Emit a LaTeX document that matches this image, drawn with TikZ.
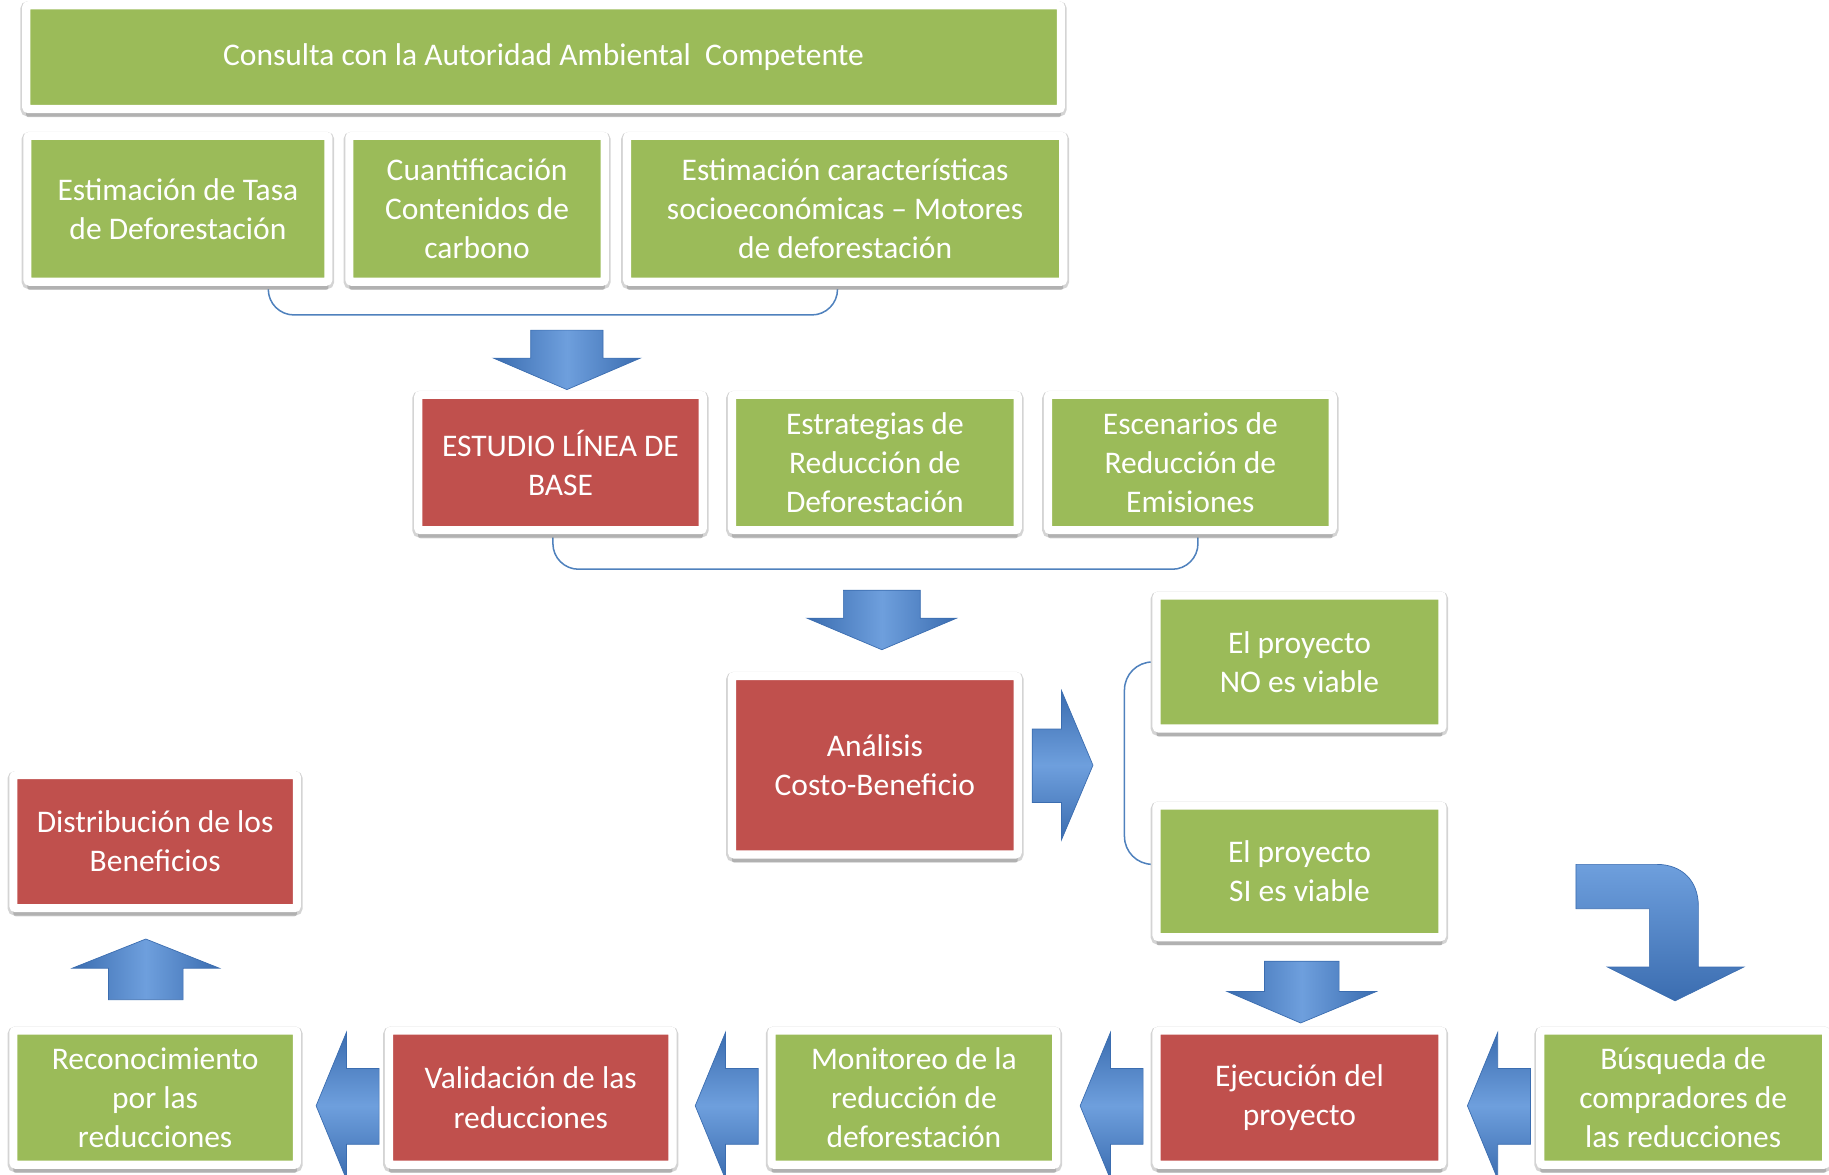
\documentclass[tikz,border=0pt]{standalone}
\usepackage{fontspec}
\setmainfont{Carlito}
\usetikzlibrary{shadows}

\definecolor{boxgreen}{HTML}{9BBB59}
\definecolor{boxred}{HTML}{C0504D}
\definecolor{bracecol}{HTML}{4F81BD}
\definecolor{arrowlight}{HTML}{6E9FDD}
\definecolor{arrowdark}{HTML}{3B6DB0}

\tikzset{
  card/.style={draw=white, line width=7pt, rounded corners=2pt, text=white,
    align=center, font=\fontsize{27}{33.5}\selectfont,
    preaction={draw=black!17, line width=10pt, transform canvas={yshift=-1.5pt}},
    drop shadow={shadow xshift=0pt, shadow yshift=-7pt, opacity=.25, fill=black!70}},
  greencard/.style={card, fill=boxgreen},
  redcard/.style={card, fill=boxred},
  brace/.style={draw=bracecol, line width=1.3pt},
  blockv/.style={left color=arrowdark, right color=arrowdark, middle color=arrowlight,
    draw=arrowdark, line width=.6pt},
  blockh/.style={top color=arrowdark, bottom color=arrowdark, middle color=arrowlight,
    draw=arrowdark, line width=.6pt},
  blockbent/.style={top color=arrowlight, bottom color=arrowdark,
    draw=arrowdark, line width=.6pt}
}

\begin{document}
\begin{tikzpicture}[x=1pt, y=-1pt]
    \useasboundingbox (0,0) rectangle (1568,1007);
    % braces
    \draw[brace, rounded corners=22pt] (230,240) -- ++(0,30) -| (718,240);
    \draw[brace, rounded corners=22pt] (474,452) -- ++(0,36) -| (1027,452);
    \draw[brace, rounded corners=24pt] (990,567.5) -- ++(-26,0) |- (990,741);
    % top
    \node[greencard, minimum width=887, minimum height=89] (consulta) at (466,49)
        {Consulta con la Autoridad Ambiental\ \ Competente};
    \node[greencard, minimum width=258, minimum height=125] (tasa) at (152.5,179)
        {Estimación de Tasa\\de Deforestación};
    \node[greencard, minimum width=219, minimum height=125] (carbono) at (409,179)
        {Cuantificación\\Contenidos de\\carbono};
    \node[greencard, minimum width=374, minimum height=125] (motores) at (724.5,179)
        {Estimación características\\socioeconómicas – Motores\\de deforestación};
    % middle
    \node[redcard, minimum width=244, minimum height=116] (base) at (480.5,396.5)
        {ESTUDIO LÍNEA DE\\BASE};
    \node[greencard, minimum width=245, minimum height=116] (estrategias) at (750,396.5)
        {Estrategias de\\Reducción de\\Deforestación};
    \node[greencard, minimum width=244, minimum height=116] (escenarios) at (1020.5,396.5)
        {Escenarios de\\Reducción de\\Emisiones};
    \node[redcard, minimum width=245, minimum height=153] (analisis) at (750,656)
        {Análisis\\Costo-Beneficio};
    \node[greencard, minimum width=245, minimum height=114] (noviable) at (1114,567.5)
        {El proyecto\\NO es viable};
    \node[greencard, minimum width=245, minimum height=113] (siviable) at (1114,747)
        {El proyecto\\SI es viable};
    \node[redcard, minimum width=243, minimum height=114] (distribucion) at (133,721.5)
        {Distribución de los\\Beneficios};
    % bottom row
    \node[greencard, minimum width=243, minimum height=115] (reconocimiento) at (133,941)
        {Reconocimiento\\por las\\reducciones};
    \node[redcard, minimum width=243, minimum height=115] (validacion) at (455,941)
        {Validación de las\\reducciones};
    \node[greencard, minimum width=244, minimum height=115] (monitoreo) at (783.5,941)
        {Monitoreo de la\\reducción de\\deforestación};
    \node[redcard, minimum width=245, minimum height=115] (ejecucion) at (1114,941)
        {Ejecución del\\proyecto};
    \node[greencard, minimum width=245, minimum height=115] (busqueda) at (1443,941)
        {Búsqueda de\\compradores de\\las reducciones};
    % block arrows
    \shadedraw[blockv] (455,283) -- (517,283) -- (517,307) -- (549,307) -- (486,334) -- (423,307) -- (455,307) -- cycle;
    \shadedraw[blockv] (723,506) -- (789,506) -- (789,530) -- (820,530) -- (756,557) -- (692,530) -- (723,530) -- cycle;
    \shadedraw[blockv] (1084,824) -- (1148,824) -- (1148,850) -- (1180,850) -- (1115,877) -- (1052,850) -- (1084,850) -- cycle;
    \shadedraw[blockv] (93,857) -- (157,857) -- (157,830) -- (188,830) -- (125,805) -- (62,830) -- (93,830) -- cycle;
    \shadedraw[blockh] (885,625) -- (910,625) -- (910,592) -- (937,656) -- (910,720) -- (910,688) -- (885,688) -- cycle;
    \shadedraw[blockh] (325,916) -- (297,916) -- (297,885) -- (271,948) -- (297,1011) -- (297,981) -- (325,981) -- cycle;
    \shadedraw[blockh] (650,916) -- (622,916) -- (622,885) -- (596,948) -- (622,1011) -- (622,981) -- (650,981) -- cycle;
    \shadedraw[blockh] (980,916) -- (952,916) -- (952,885) -- (926,948) -- (952,1011) -- (952,981) -- (980,981) -- cycle;
    \shadedraw[blockh] (1312,916) -- (1284,916) -- (1284,885) -- (1258,948) -- (1284,1011) -- (1284,981) -- (1312,981) -- cycle;
    \shadedraw[blockbent] (1351,741) -- (1420,741) .. controls (1442,741) and (1456,755) .. (1456,777)
        -- (1456,829) -- (1495,829) -- (1436,858) -- (1378,829) -- (1414,829) -- (1414,779) -- (1351,779) -- cycle;
\end{tikzpicture}
\end{document}
